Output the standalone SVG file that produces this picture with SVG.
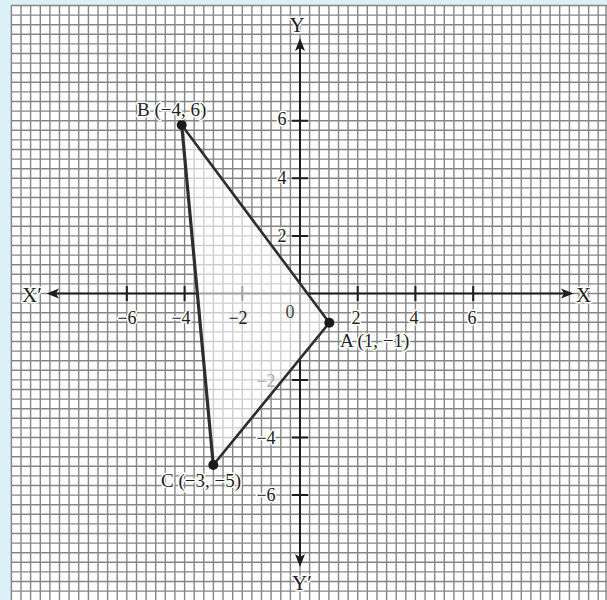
<svg xmlns="http://www.w3.org/2000/svg" width="607" height="600" viewBox="0 0 607 600">
<style>
.grid{stroke:#858585;stroke-width:1.4;fill:none}
.axis{stroke:#1e1e1e;stroke-width:2;fill:none}
.tick{stroke:#1e1e1e;stroke-width:2}
.head{fill:#1e1e1e}
.edge{stroke:#2e2e2e;stroke-width:2.6;fill:none;stroke-linecap:round}
.dot{fill:#1a1a1a}
.t{font-family:"Liberation Serif","Times New Roman",serif;font-size:18px;fill:#222;paint-order:stroke;stroke:#fff;stroke-width:3;stroke-linejoin:round}
.c{text-anchor:middle}
.ax{font-size:21px}
.pl{font-size:19px}
</style>
<rect x="0" y="0" width="607" height="600" fill="#dcf0f8"/>
<rect x="11" y="5.5" width="596" height="595" fill="#fff"/>
<g id="grid">
<path class="grid" d="M11.4 5.5V600M21 5.5V600M30.6 5.5V600M40.3 5.5V600M49.9 5.5V600M59.5 5.5V600M69.1 5.5V600M78.7 5.5V600M88.4 5.5V600M98 5.5V600M107.6 5.5V600M117.2 5.5V600M126.8 5.5V600M136.5 5.5V600M146.1 5.5V600M155.7 5.5V600M165.3 5.5V600M174.9 5.5V600M184.6 5.5V600M194.2 5.5V600M203.8 5.5V600M213.4 5.5V600M223 5.5V600M232.7 5.5V600M242.3 5.5V600M251.9 5.5V600M261.5 5.5V600M271.1 5.5V600M280.8 5.5V600M290.4 5.5V600M300 5.5V600M309.6 5.5V600M319.2 5.5V600M328.9 5.5V600M338.5 5.5V600M348.1 5.5V600M357.7 5.5V600M367.3 5.5V600M377 5.5V600M386.6 5.5V600M396.2 5.5V600M405.8 5.5V600M415.4 5.5V600M425.1 5.5V600M434.7 5.5V600M444.3 5.5V600M453.9 5.5V600M463.5 5.5V600M473.2 5.5V600M482.8 5.5V600M492.4 5.5V600M502 5.5V600M511.6 5.5V600M521.3 5.5V600M530.9 5.5V600M540.5 5.5V600M550.1 5.5V600M559.7 5.5V600M569.4 5.5V600M579 5.5V600M588.6 5.5V600M598.2 5.5V600M606 5.5V600"/>
<path class="grid" d="M11 5.5H607M11 15.1H607M11 24.7H607M11 34.3H607M11 43.9H607M11 53.5H607M11 63.1H607M11 72.7H607M11 82.3H607M11 91.9H607M11 101.5H607M11 111.1H607M11 120.7H607M11 130.3H607M11 139.9H607M11 149.5H607M11 159.1H607M11 168.7H607M11 178.3H607M11 187.9H607M11 197.5H607M11 207.1H607M11 216.7H607M11 226.3H607M11 235.9H607M11 245.5H607M11 255.1H607M11 264.7H607M11 274.3H607M11 283.9H607M11 293.5H607M11 303.1H607M11 312.7H607M11 322.3H607M11 331.9H607M11 341.5H607M11 351.1H607M11 360.7H607M11 370.3H607M11 379.9H607M11 389.5H607M11 399.1H607M11 408.7H607M11 418.3H607M11 427.9H607M11 437.5H607M11 447.1H607M11 456.7H607M11 466.3H607M11 475.9H607M11 485.5H607M11 495.1H607M11 504.7H607M11 514.3H607M11 523.9H607M11 533.5H607M11 543.1H607M11 552.7H607M11 562.3H607M11 571.9H607M11 581.5H607M11 591.1H607"/>
</g>
<g id="axes">
<path class="axis" d="M56 293.5H564M300 48V558"/>
<path class="tick" d="M126.8 286V301M184.6 286V301M242.3 286V301M357.7 286V301M415.4 286V301M473.2 286V301M292 120.7H308M292 178.3H308M292 235.9H308M292 379.9H308M292 437.5H308M292 495.1H308"/>
<polygon class="head" points="46.5,293.5 59,288.5 56,293.5 59,298.5"/>
<polygon class="head" points="573.5,293.5 561,288.5 564,293.5 561,298.5"/>
<polygon class="head" points="300,38 295,51 300,48 305,51"/>
<polygon class="head" points="300,567 295,554 300,557 305,554"/>
</g>
<g id="connectors">
<polygon points="181.7,125 329.3,322.7 213.3,465" fill="#fff" fill-opacity="0.6"/>
<line class="edge" x1="181.7" y1="125" x2="329.3" y2="322.7"/>
<line class="edge" x1="329.3" y1="322.7" x2="213.3" y2="465"/>
<line class="edge" x1="213.3" y1="465" x2="181.7" y2="125" style="stroke-width:3.2"/>
</g>
<g id="axis-labels">
<text class="t ax" x="22" y="302">X′</text>
<text class="t ax" x="576" y="302">X</text>
<text class="t ax c" x="297" y="32">Y</text>
<text class="t ax c" x="302" y="590">Y′</text>
<text class="t c" x="127" y="324">−6</text>
<text class="t c" x="181" y="324">−4</text>
<text class="t c" x="238" y="324" style="stroke:none">−2</text>
<text class="t c" x="290" y="318" style="fill:#444;stroke:none">0</text>
<text class="t c" x="356" y="324">2</text>
<text class="t c" x="414" y="324">4</text>
<text class="t c" x="472" y="324">6</text>
<text class="t c" x="282" y="125">6</text>
<text class="t c" x="282" y="184">4</text>
<text class="t c" x="282" y="242">2</text>
<text class="t c" x="266" y="387" style="fill:#a8a8a8;stroke:none">−2</text>
<text class="t c" x="266" y="444">−4</text>
<text class="t c" x="266" y="501">−6</text>
</g>
<g id="node-B">
<circle class="dot" cx="181.7" cy="125" r="5"/>
<text class="t pl" x="137" y="116">B (−4, 6)</text>
</g>
<g id="node-A">
<circle class="dot" cx="329.3" cy="322.7" r="5"/>
<text class="t pl" x="340" y="347">A (1, −1)</text>
</g>
<g id="node-C">
<circle class="dot" cx="213.3" cy="465" r="5"/>
<text class="t pl" x="161" y="487">C (−3, −5)</text>
</g>
</svg>
